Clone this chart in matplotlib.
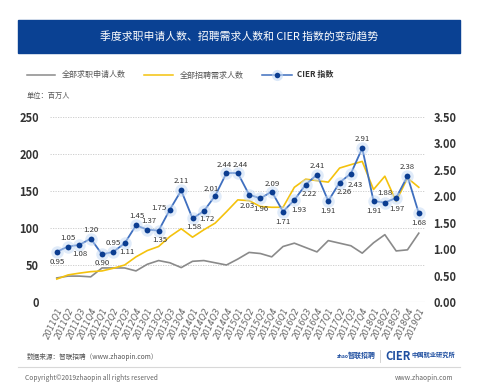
import matplotlib
matplotlib.use("Agg")
import matplotlib.pyplot as plt
from matplotlib.patches import Rectangle
from matplotlib.lines import Line2D

plt.rcParams['font.family'] = ['Noto Sans CJK SC', 'DejaVu Sans']

# quarters 2011Q1 .. 2019Q1
quarters = [f"{y}Q{q}" for y in range(2011, 2019) for q in range(1, 5)] + ["2019Q1"]

# all job applications (millions)
applicants = [32.5, 35, 35, 34, 46, 46, 46, 42, 51, 56, 53, 46.5, 55, 56, 53, 50,
              58, 67, 65.5, 61, 75, 79.5, 73.6, 67.7, 83, 79.5, 76, 66, 80, 91,
              69, 70.5, 93]
# all recruitment demand (millions)
demand = [31, 36.6, 39, 41, 42, 45.6, 50, 61, 69.5, 75, 88.5, 99, 87.6, 97.6, 106.6, 122,
          138, 137, 129, 128, 128, 155, 166, 164, 162, 181, 185.6, 190, 152, 170,
          136, 167.6, 155]
# CIER index
cier = [0.95, 1.05, 1.08, 1.20, 0.90, 0.95, 1.11, 1.45, 1.37, 1.35, 1.75, 2.11, 1.58,
        1.72, 2.01, 2.44, 2.44, 2.03, 1.96, 2.09, 1.71, 1.93, 2.22, 2.41, 1.91, 2.26,
        2.43, 2.91, 1.91, 1.88, 1.97, 2.38, 1.68]

left_ticks = [0, 50, 100, 150, 200, 250]
right_ticks = [0, 0.5, 1.0, 1.5, 2.0, 2.5, 3.0, 3.5]

# label offsets (px) for CIER values
label_off = [(0, -10), (0, 9), (0, -9), (0, 9), (0, -9), (0, 9), (2, -9), (1, 9),
             (2, 9), (1, -9), (-11, 1), (0, 9), (1, -9), (3, -8), (-4, 7), (-2, 8),
             (2, 8), (-2, -11), (0, -11), (1, 8), (0, -10), (4, -10), (4, -9), (0, 9),
             (0, -10), (5, -9), (4, -11), (0, 9), (0, -10), (0, 10), (1, -11), (0, 9),
             (0, -10)]

GRAY = "#8a8a8a"
YELLOW = "#f4c20d"
BLUE_LINE = "#3f6fbf"
BLUE_DOT = "#0b3d91"
HALO = "#c3d9f5"
TXT = "#333333"

W, H = 479, 388
fig = plt.figure(figsize=(W / 100, H / 100), dpi=100)

def fx(px):
    return px / W

def fy(py):
    return 1 - py / H

# title banner
fig.patches.append(Rectangle((fx(18), fy(53)), fx(460) - fx(18), fy(20) - fy(53),
                             transform=fig.transFigure, color="#0a4193", zorder=0))
fig.text(fx(239), fy(36.5), "季度求职申请人数、招聘需求人数和 CIER 指数的变动趋势",
         color="white", fontsize=7.8, ha="center", va="center")

# legend row
def leg_line(x0, x1, color, marker=False):
    fig.add_artist(Line2D([fx(x0), fx(x1)], [fy(75), fy(75)], color=color, lw=1.1,
                          transform=fig.transFigure))
    if marker:
        xm = (x0 + x1) / 2
        fig.add_artist(Line2D([fx(xm)], [fy(75)], marker="o", ms=8, color=HALO, alpha=0.6,
                              mec="none", transform=fig.transFigure))
        fig.add_artist(Line2D([fx(xm)], [fy(75)], marker="o", ms=4, color=BLUE_DOT,
                              mec="none", transform=fig.transFigure))

leg_line(27, 55, GRAY)
fig.text(fx(62), fy(75), "全部求职申请人数", fontsize=5.8, color="#555555", va="center")
leg_line(144, 173, YELLOW)
fig.text(fx(180), fy(75), "全部招聘需求人数", fontsize=5.8, color="#555555", va="center")
leg_line(262, 292, BLUE_LINE, marker=True)
fig.text(fx(297), fy(75), "CIER 指数", fontsize=5.8, color="#333333", va="center",
         fontweight="bold")
fig.text(fx(27), fy(96), "单位：百万人", fontsize=5.2, color="#555555", va="center")

# main axes
ax = fig.add_axes([fx(50), fy(302), fx(425) - fx(50), fy(117) - fy(302)])
x = list(range(len(quarters)))
ax.plot(x, applicants, color=GRAY, lw=1.2, zorder=2)
ax.plot(x, demand, color=YELLOW, lw=1.2, zorder=2)
ax.set_xlim(-0.6, len(quarters) - 1 + 0.55)
ax.set_ylim(0, 250)
ax.set_yticks(left_ticks)
ax.set_yticklabels([str(t) for t in left_ticks], fontsize=8, color=TXT, fontweight="bold")
for t in left_ticks[1:]:
    ax.axhline(t, color="#c8c8c8", lw=0.6, ls=(0, (1.5, 1.5)), zorder=1)
ax.axhline(0, color="#cccccc", lw=0.8, zorder=1)
for s in ax.spines.values():
    s.set_visible(False)
ax.tick_params(axis="both", length=0)
ax.tick_params(axis="y", pad=8)
ax.set_xticks(x)
ax.set_xticklabels(quarters, rotation=65, ha="right", rotation_mode="anchor",
                   fontsize=6, color="#666666", family=["DejaVu Sans"], fontstyle="italic")
ax.tick_params(axis="x", pad=3)

ax2 = ax.twinx()
ax2.set_ylim(0, 3.5)
ax2.set_yticks(right_ticks)
ax2.set_yticklabels([f"{t:.2f}" for t in right_ticks], fontsize=8, color=TXT,
                    fontweight="bold")
for s in ax2.spines.values():
    s.set_visible(False)
ax2.tick_params(axis="y", length=0, pad=6)
ax2.plot(x, cier, color=BLUE_LINE, lw=1.3, zorder=3)
ax2.plot(x, cier, ls="none", marker="o", ms=9, color=HALO, alpha=0.5, mec="none", zorder=3)
ax2.plot(x, cier, ls="none", marker="o", ms=4.2, color=BLUE_DOT, mec="none", zorder=4)
for xi, v, (dx, dy) in zip(x, cier, label_off):
    ax2.annotate(f"{v:.2f}", (xi, v), xytext=(dx * 0.72, dy * 0.72),
                 textcoords="offset points", ha="center", va="center",
                 fontsize=5.6, color="#333333", zorder=5)

# footer
fig.text(fx(27), fy(357), "数据来源：智联招聘（www.zhaopin.com）", fontsize=4.8,
         color="#555555", va="center")
fig.add_artist(Line2D([fx(18), fx(460)], [fy(367), fy(367)], color="#d8d8d8", lw=0.8,
                      transform=fig.transFigure))
fig.text(fx(25), fy(378), "Copyright©2019zhaopin all rights reserved", fontsize=4.8,
         color="#666666", va="center")
fig.text(fx(453), fy(378), "www.zhaopin.com", fontsize=4.8, color="#666666",
         va="center", ha="right")
fig.text(fx(337), fy(356), "zhao", fontsize=3.6, color="#1f4fa0", va="center",
         fontweight="bold", fontstyle="italic")
fig.text(fx(348), fy(355), "智联招聘", fontsize=5, color="#1f4fa0", va="center",
         fontweight="bold", fontstyle="italic")
fig.add_artist(Line2D([fx(380), fx(380)], [fy(350), fy(362)], color="#cccccc", lw=0.6,
                      transform=fig.transFigure))
fig.text(fx(385), fy(356), "CIER", fontsize=8, color="#1f4fa0", va="center",
         fontweight="bold")
fig.text(fx(412), fy(354), "中国就业研究所", fontsize=4.5, color="#1f4fa0", va="center",
         fontweight="bold")

fig.savefig("out.png", dpi=100)
